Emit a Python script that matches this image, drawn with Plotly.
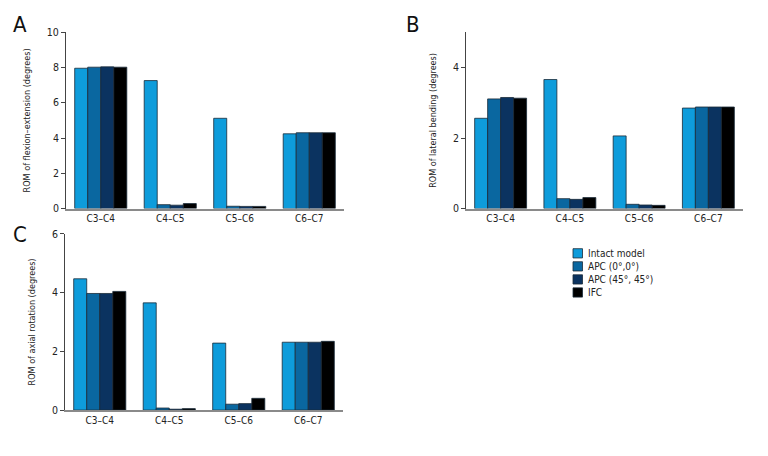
import plotly.graph_objects as go

W, H = 768, 456

categories = ["C3\u2013C4", "C4\u2013C5", "C5\u2013C6", "C6\u2013C7"]
series_names = ["Intact model", "APC (0\u00b0,0\u00b0)", "APC (45\u00b0, 45\u00b0)", "IFC"]
colors = ["#0e9cdb", "#0a67a0", "#0b3360", "#000000"]

# Panel A: flexion-extension
fe_intact = [7.96, 7.26, 5.12, 4.24]
fe_apc00 = [8.02, 0.22, 0.13, 4.30]
fe_apc45 = [8.04, 0.19, 0.12, 4.30]
fe_ifc = [8.02, 0.28, 0.12, 4.30]

# Panel B: lateral bending
lb_intact = [2.56, 3.66, 2.06, 2.85]
lb_apc00 = [3.11, 0.28, 0.12, 2.88]
lb_apc45 = [3.15, 0.26, 0.10, 2.88]
lb_ifc = [3.13, 0.31, 0.09, 2.88]

# Panel C: axial rotation
ar_intact = [4.47, 3.65, 2.28, 2.31]
ar_apc00 = [3.97, 0.07, 0.20, 2.31]
ar_apc45 = [3.97, 0.03, 0.22, 2.31]
ar_ifc = [4.04, 0.05, 0.40, 2.34]

panels = [
    dict(vals=[fe_intact, fe_apc00, fe_apc45, fe_ifc], xa="x", ya="y",
         title="ROM of flexion\u2013extension (degrees)", rng=[0, 10], ticks=[0, 2, 4, 6, 8, 10],
         px=(66, 344), py=(27, 208), letter="A", lx=11, ly=4),
    dict(vals=[lb_intact, lb_apc00, lb_apc45, lb_ifc], xa="x2", ya="y2",
         title="ROM of lateral bending (degrees)", rng=[0, 5], ticks=[0, 2, 4],
         px=(466, 743), py=(27, 208), letter="B", lx=404, ly=4),
    dict(vals=[ar_intact, ar_apc00, ar_apc45, ar_ifc], xa="x3", ya="y3",
         title="ROM of axial rotation (degrees)", rng=[0, 6], ticks=[0, 2, 4, 6],
         px=(65, 343), py=(234, 415), letter="C", lx=11, ly=220),
]

FONT = "DejaVu Sans Condensed, Liberation Sans Narrow, sans-serif"

fig = go.Figure()
layout = dict(
    width=W, height=H, margin=dict(l=0, r=0, t=0, b=0),
    paper_bgcolor="white", plot_bgcolor="white",
    barmode="group", bargap=0.25, bargroupgap=0.0,
    showlegend=False,
    font=dict(family=FONT, size=10, color="#222"),
    annotations=[], shapes=[],
)

for i, p in enumerate(panels):
    for name, v, c in zip(series_names, p["vals"], colors):
        fig.add_trace(go.Bar(
            x=categories, y=v, name=name, xaxis=p["xa"], yaxis=p["ya"],
            marker=dict(color=c, line=dict(color="#1b2b38", width=0.8)),
            showlegend=False,
        ))
    suffix = "" if i == 0 else str(i + 1)
    xd = [p["px"][0] / W, p["px"][1] / W]
    yd = [1 - p["py"][1] / H, 1 - p["py"][0] / H]
    layout["xaxis" + suffix] = dict(
        domain=xd, anchor=p["ya"], range=[-0.5, 3.5], showgrid=False,
        showline=True, linecolor="#8a8a8a", linewidth=1.5, ticks="",
        tickfont=dict(size=10, color="#222", family=FONT), fixedrange=True,
    )
    layout["yaxis" + suffix] = dict(
        domain=yd, anchor=p["xa"], range=p["rng"], tickvals=p["ticks"],
        showgrid=False, zeroline=False, showline=True, linecolor="#444", linewidth=1,
        ticks="outside", ticklen=4, tickcolor="#444",
        tickfont=dict(size=10.5, color="#222", family=FONT),
        title=dict(text=p["title"], font=dict(size=9, color="#222", family=FONT), standoff=14),
    )
    layout["annotations"].append(dict(
        text=p["letter"], x=p["lx"] / W, y=1 - p["ly"] / H, xref="paper", yref="paper",
        xanchor="left", yanchor="top", showarrow=False,
        font=dict(size=22, color="#111", family=FONT),
    ))

# custom legend
lx0, ly0, step, sq = 573, 254, 13.4, 9.5
for k, (name, c) in enumerate(zip(series_names, colors)):
    yc = ly0 + k * step
    layout["shapes"].append(dict(
        type="rect", xref="paper", yref="paper",
        x0=lx0 / W, x1=(lx0 + sq) / W, y0=1 - (yc + sq / 2) / H, y1=1 - (yc - sq / 2) / H,
        fillcolor=c, line=dict(color="#1b2b38", width=0.8),
    ))
    layout["annotations"].append(dict(
        text=name, x=(lx0 + 13) / W, y=1 - yc / H, xref="paper", yref="paper",
        xanchor="left", yanchor="middle", showarrow=False,
        font=dict(size=10, color="#222", family=FONT),
    ))

fig.update_layout(**layout)
fig.write_html(
    "out.html",
    config={"displayModeBar": False},
    post_script=(
        "document.documentElement.style.margin='0';"
        "document.body.style.margin='0';document.body.style.padding='0';"
        "document.body.style.lineHeight='0';"
        "document.querySelectorAll('.svg-container').forEach(function(e){e.style.display='block';});"
        "document.body.style.overflow='hidden';document.documentElement.style.overflow='hidden';"
    ),
)
